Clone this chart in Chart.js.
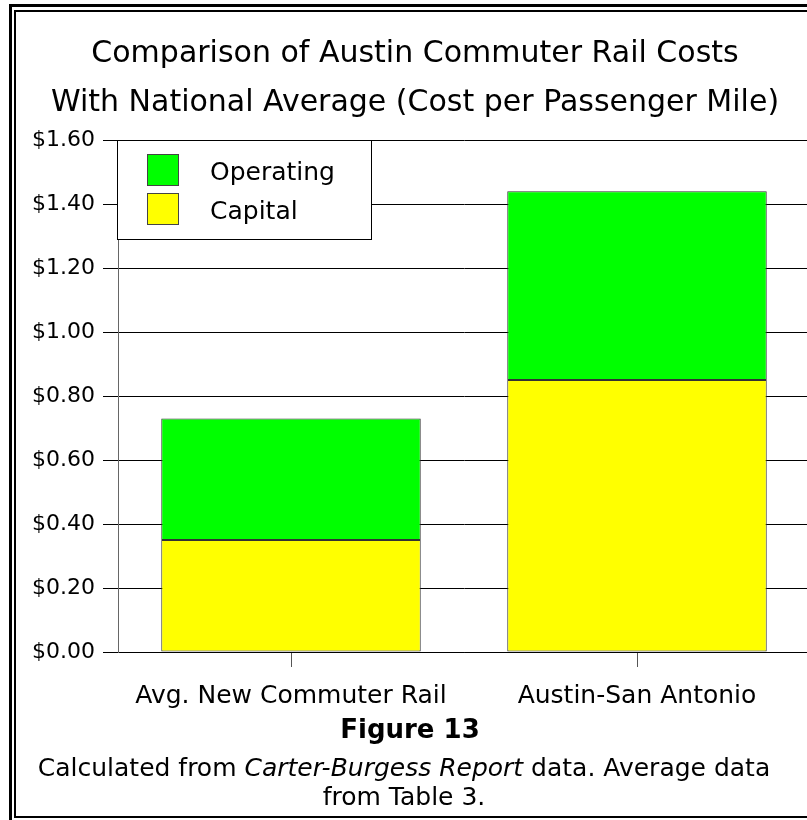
<!DOCTYPE html>
<html>
<head>
<meta charset="utf-8">
<script src="https://cdn.jsdelivr.net/npm/chart.js@4/dist/chart.umd.min.js"></script>
<style>
  html, body { margin: 0; padding: 0; background: #fff; overflow: hidden; }
  #wrap { position: relative; width: 807px; height: 820px; overflow: hidden; }
  #chart { position: absolute; left: 0; top: 0; }
  .frame { position: absolute; border-style: solid; border-color: #000; pointer-events: none; }
  #frameOuter { left: 9px; top: 4px; width: 840px; height: 840px; border-width: 3px; }
  #frameInner { left: 14px; top: 10px; width: 840px; height: 804px; border-width: 2px; }
  .cap { position: absolute; left: 0; width: 808px; text-align: center; color: #000;
         font-family: "DejaVu Sans", sans-serif; font-size: 25px; line-height: 30px; white-space: nowrap; }
  #fig { font-weight: bold; font-size: 26px; left: 6px; }
</style>
</head>
<body>
<div id="wrap">
  <canvas id="chart" width="830" height="820"></canvas>
  <div class="cap" id="fig" style="top:714px">Figure 13</div>
  <div class="cap" style="top:753px">Calculated from <i>Carter-Burgess Report</i> data. Average data</div>
  <div class="cap" style="top:782px">from Table 3.</div>
  <div class="frame" id="frameOuter"></div>
  <div class="frame" id="frameInner"></div>
</div>
<script>
// Data
const categories = ['Avg. New Commuter Rail', 'Austin-San Antonio'];
const capitalCost = [0.35, 0.85];
const operatingCost = [0.38, 0.59];
const yMin = 0;
const yMax = 1.6;
const yStep = 0.2;
const titleLines = ['Comparison of Austin Commuter Rail Costs', 'With National Average (Cost per Passenger Mile)'];

const FONT = '"DejaVu Sans", sans-serif';

// Legend drawn as a boxed key in the top-left of the plot
const boxLegend = {
    id: 'boxLegend',
    afterDatasetsDraw(chart) {
        const ctx = chart.ctx;
        const area = chart.chartArea;
        const x = area.left - 1, y = area.top, w = 254, h = 99;
        ctx.save();
        ctx.fillStyle = '#fff';
        ctx.fillRect(x, y, w, h);
        ctx.strokeStyle = '#000';
        ctx.lineWidth = 1;
        ctx.strokeRect(x + 0.5, y + 0.5, w, h);
        const items = chart.data.datasets.slice().reverse();
        ctx.font = '25px ' + FONT;
        ctx.textBaseline = 'middle';
        ctx.textAlign = 'left';
        items.forEach((ds, i) => {
            const sy = y + 14 + i * 39;
            ctx.fillStyle = ds.backgroundColor;
            ctx.fillRect(x + 30, sy, 31, 31);
            ctx.strokeStyle = '#444';
            ctx.strokeRect(x + 30.5, sy + 0.5, 31, 31);
            ctx.fillStyle = '#000';
            ctx.fillText(ds.label, x + 93, sy + 19);
        });
        ctx.restore();
    }
};

const ctx = document.getElementById('chart').getContext('2d');
new Chart(ctx, {
    type: 'bar',
    data: {
        labels: categories,
        datasets: [
            {
                label: 'Capital',
                data: capitalCost,
                backgroundColor: '#ffff00',
                borderColor: '#333',
                borderWidth: 1,
                borderSkipped: false
            },
            {
                label: 'Operating',
                data: operatingCost,
                backgroundColor: '#00ff00',
                borderColor: '#333',
                borderWidth: 1,
                borderSkipped: false
            }
        ]
    },
    options: {
        responsive: false,
        animation: false,
        devicePixelRatio: 1,
        layout: { padding: { left: 20, right: 20, top: 0, bottom: 0 } },
        datasets: {
            bar: { categoryPercentage: 0.75, barPercentage: 1 }
        },
        plugins: {
            legend: { display: false },
            tooltip: { enabled: false },
            title: {
                display: true,
                text: titleLines,
                color: '#000',
                font: { family: FONT, size: 30, weight: 'normal', lineHeight: '49px' },
                padding: { top: 30, bottom: 12 }
            }
        },
        scales: {
            x: {
                stacked: true,
                afterFit(scale) { scale.height = 168; },
                grid: {
                    offset: false,
                    drawOnChartArea: false,
                    drawTicks: true,
                    tickLength: 15,
                    color: '#555'
                },
                border: { color: '#000', width: 1 },
                ticks: {
                    color: '#000',
                    padding: 14,
                    font: { family: FONT, size: 25 }
                }
            },
            y: {
                stacked: true,
                min: yMin,
                max: yMax,
                afterFit(scale) { scale.width = 98; },
                grid: {
                    color: '#000',
                    lineWidth: 1,
                    tickLength: 15
                },
                border: { color: '#666', width: 1 },
                ticks: {
                    stepSize: yStep,
                    color: '#000',
                    padding: 8,
                    font: { family: FONT, size: 22 },
                    callback: v => '$' + Number(v).toFixed(2)
                }
            }
        }
    },
    plugins: [boxLegend]
});
</script>
</body>
</html>
